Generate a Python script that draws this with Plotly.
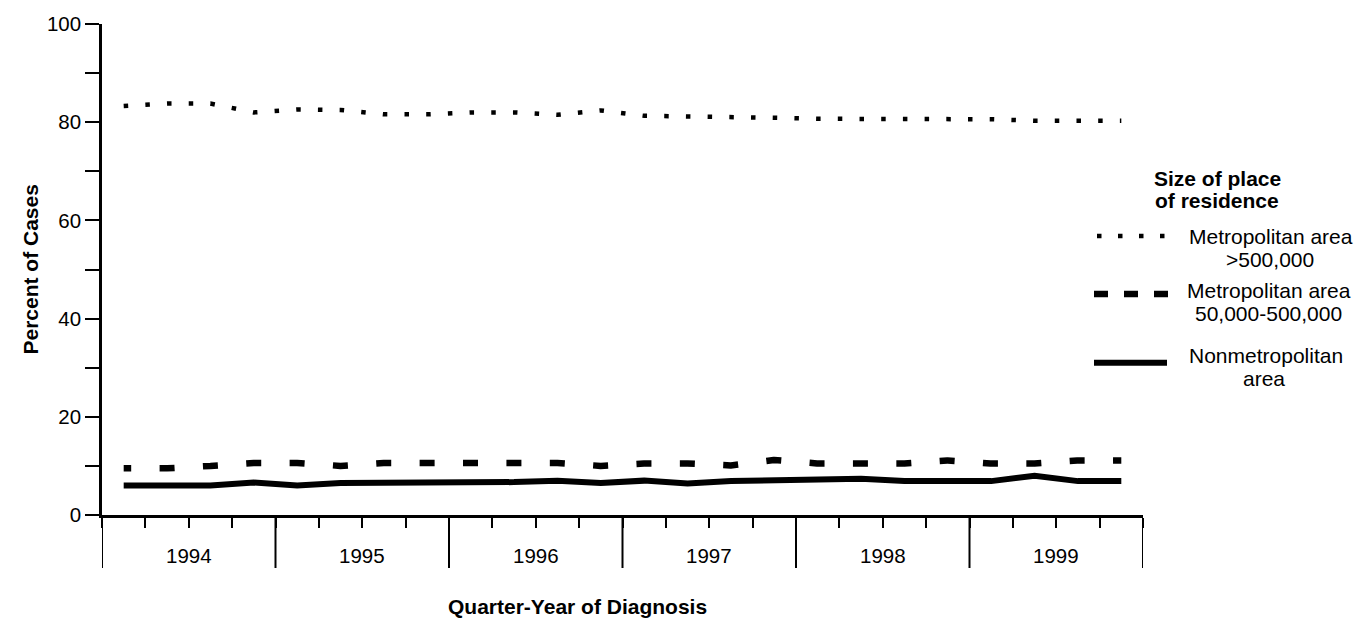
import plotly.graph_objects as go

# ---------------- data ----------------
years = [1994, 1995, 1996, 1997, 1998, 1999]
quarters = [1, 2, 3, 4]

metro_large = [83.3, 83.8, 83.8, 82.0, 82.6, 82.5, 81.6, 81.6, 82.0, 82.0, 81.5, 82.4,
               81.3, 81.2, 81.2, 80.9, 80.7, 80.7, 80.7, 80.7, 80.6, 80.3, 80.3, 80.3]
metro_mid = [9.5, 9.5, 10.0, 10.6, 10.6, 10.0, 10.6, 10.6, 10.6, 10.6, 10.6, 10.0,
             10.5, 10.5, 10.1, 11.2, 10.5, 10.5, 10.5, 11.1, 10.5, 10.5, 11.1, 11.1]
nonmetro = [6.0, 6.0, 6.0, 6.6, 6.0, 6.5, 6.5, 6.5, 6.6, 6.7, 7.0, 6.5,
            7.0, 6.4, 6.9, 7.0, 7.4, 7.4, 6.9, 6.9, 6.9, 8.0, 6.9, 6.9]

y_tick_values = [0, 10, 20, 30, 40, 50, 60, 70, 80, 90, 100]
y_tick_labels = ["0", "", "20", "", "40", "", "60", "", "80", "", "100"]
year_labels = ["1994", "1995", "1996", "1997", "1998", "1999"]

legend_title = ["Size of place", "of residence"]
legend_names = [["Metropolitan area", ">500,000"],
                ["Metropolitan area", "50,000-500,000"],
                ["Nonmetropolitan", "area"]]

x_title = "Quarter-Year of Diagnosis"
y_title = "Percent of Cases"

# ---------------- geometry helpers ----------------
W, H = 1368, 623
L, R, T, B = 102, 1143, 15, 515


def px(xp):
    return (xp - L) / (R - L)


def py(yp):
    return (B - yp) / (B - T)


FONT = "Liberation Sans, Arial, Helvetica, sans-serif"
TICK_SIZE = 20.5
TEXT_SIZE = 21

x_pos = [yr + (q - 0.5) / 4 for yr in years for q in quarters]
quarter_bounds = [years[0] + i / 4 for i in range(len(years) * 4 + 1)]
year_bounds = years + [years[-1] + 1]

fig = go.Figure()

fig.add_trace(go.Scatter(x=x_pos, y=metro_large, mode="lines", showlegend=False,
                         line=dict(color="black", width=4.5, dash="4.5px,17.2px")))
fig.add_trace(go.Scatter(x=x_pos, y=metro_mid, mode="lines", showlegend=False,
                         line=dict(color="black", width=6.5, dash="7.5px,28.4px,7.5px,0px")))
fig.add_trace(go.Scatter(x=x_pos, y=nonmetro, mode="lines", showlegend=False,
                         line=dict(color="black", width=6)))

shapes = []
for b in year_bounds:
    shapes.append(dict(type="line", xref="x", yref="paper", x0=b, x1=b,
                       y0=0, y1=-54 / (B - T), line=dict(color="black", width=2)))

# legend samples
shapes.append(dict(type="line", xref="paper", yref="paper", x0=px(1097), x1=px(1167),
                   y0=py(231), y1=py(231), line=dict(color="black", width=4.5, dash="4.5px,16.5px")))
shapes.append(dict(type="line", xref="paper", yref="paper", x0=px(1094), x1=px(1168),
                   y0=py(290), y1=py(290), line=dict(color="black", width=6.5, dash="14px,16px")))
shapes.append(dict(type="line", xref="paper", yref="paper", x0=px(1094), x1=px(1167),
                   y0=py(360), y1=py(360), line=dict(color="black", width=6)))

annotations = []
for yr, lab in zip(years, year_labels):
    annotations.append(dict(x=yr + 0.5, y=py(556), xref="x", yref="paper", text=lab,
                            showarrow=False, xanchor="center", yanchor="middle",
                            font=dict(family=FONT, size=TICK_SIZE, color="black")))

annotations.append(dict(x=px(446), y=py(608), xref="paper", yref="paper",
                        text="<b>" + x_title + "</b>", showarrow=False,
                        xanchor="left", yanchor="middle",
                        font=dict(family=FONT, size=TEXT_SIZE, color="black")))
annotations.append(dict(x=px(30), y=py(265), xref="paper", yref="paper",
                        text="<b>" + y_title + "</b>", showarrow=False, textangle=-90,
                        xanchor="center", yanchor="middle",
                        font=dict(family=FONT, size=TEXT_SIZE, color="black")))

# legend text
title_pos = [(1217, 172.5), (1217, 195)]
for t, (xx, yy) in zip(legend_title, title_pos):
    annotations.append(dict(x=px(xx), y=py(yy), xref="paper", yref="paper",
                            text="<b>" + t + "</b>", showarrow=False,
                            xanchor="center", yanchor="middle",
                            font=dict(family=FONT, size=TEXT_SIZE, color="black")))

name_pos = [[(1271, 231.5), (1270, 254.5)],
            [(1269, 286.5), (1268, 309.5)],
            [(1266, 352.5), (1264, 375.5)]]
for names, poss in zip(legend_names, name_pos):
    for t, (xx, yy) in zip(names, poss):
        annotations.append(dict(x=px(xx), y=py(yy), xref="paper", yref="paper",
                                text=t, showarrow=False,
                                xanchor="center", yanchor="middle",
                                font=dict(family=FONT, size=TEXT_SIZE, color="black")))

fig.update_layout(
    width=W, height=H,
    margin=dict(l=L, r=W - R, t=T, b=H - B, pad=0),
    plot_bgcolor="white", paper_bgcolor="white",
    font=dict(family=FONT, size=TICK_SIZE, color="black"),
    showlegend=False,
    shapes=shapes,
    annotations=annotations,
    xaxis=dict(range=[years[0], years[-1] + 1], showgrid=False, zeroline=False,
               showline=True, linecolor="black", linewidth=2.5,
               ticks="outside", tickvals=quarter_bounds,
               ticktext=[""] * len(quarter_bounds), ticklen=10, tickwidth=2,
               tickcolor="black", fixedrange=True),
    yaxis=dict(range=[0, 100], showgrid=False, zeroline=False,
               showline=True, linecolor="black", linewidth=2.5,
               ticks="outside", tickvals=y_tick_values, ticktext=y_tick_labels,
               ticklen=14, tickwidth=2, tickcolor="black",
               tickfont=dict(family=FONT, size=TICK_SIZE, color="black"), fixedrange=True),
)

fig.write_html("out.html", config={"displayModeBar": False},
               post_script="document.body.style.margin='0px';"
                           "document.body.style.overflow='hidden';")
